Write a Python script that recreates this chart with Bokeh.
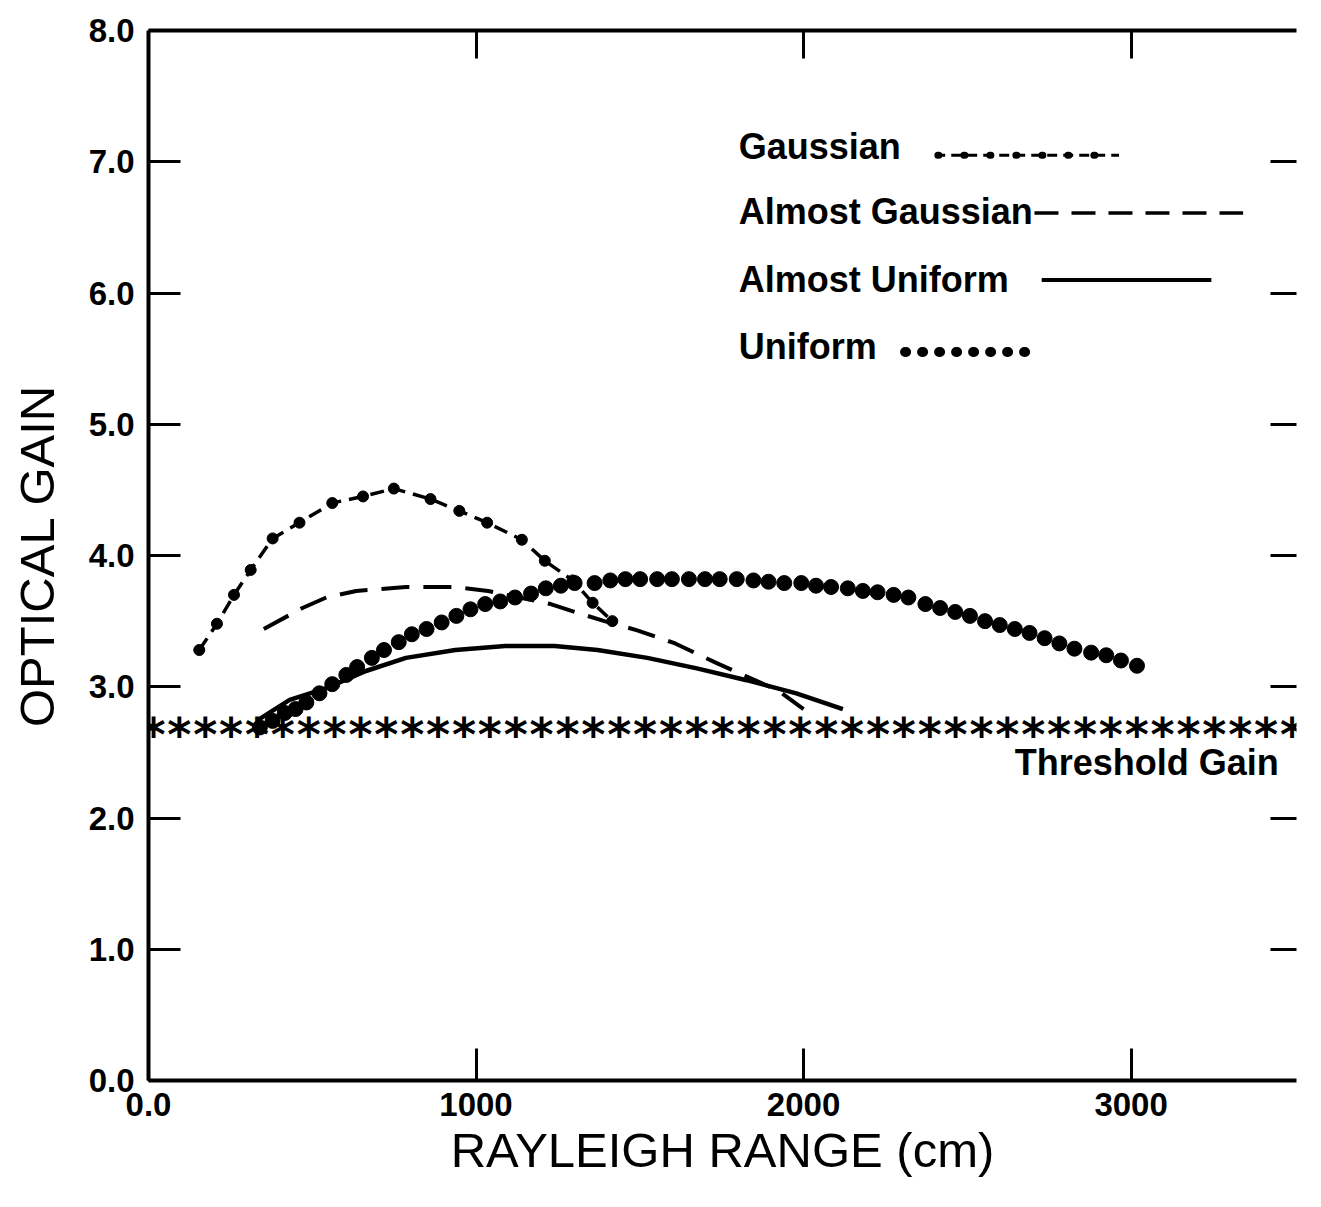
from bokeh.plotting import figure
from bokeh.models import LinearAxis, FixedTicker, NumeralTickFormatter, Label, Range1d, CustomLabelingPolicy
from bokeh.core.properties import value
from bokeh.embed import file_html
from bokeh.resources import INLINE

# ---------------- data ----------------
gaussian_x = [155, 209, 261, 312, 379, 461, 561, 655, 749, 861, 949, 1034, 1140, 1210, 1295, 1356, 1416]
gaussian_y = [3.28, 3.48, 3.70, 3.89, 4.13, 4.25, 4.40, 4.45, 4.51, 4.43, 4.34, 4.25, 4.12, 3.96, 3.81, 3.64, 3.50]

almost_gaussian_x = [352, 470, 543, 634, 786, 937, 1037, 1228, 1289, 1392, 1492, 1608, 1735, 1923, 2000]
almost_gaussian_y = [3.44, 3.60, 3.68, 3.73, 3.76, 3.76, 3.73, 3.63, 3.58, 3.50, 3.43, 3.33, 3.18, 2.97, 2.83]

almost_uniform_x = [330, 431, 543, 664, 786, 937, 1089, 1240, 1371, 1523, 1674, 1826, 1978, 2120]
almost_uniform_y = [2.74, 2.90, 2.99, 3.12, 3.22, 3.28, 3.31, 3.31, 3.28, 3.22, 3.14, 3.05, 2.95, 2.83]

uniform_x = [340, 379, 416, 449, 482, 522, 561, 604, 637, 682, 719, 764, 804, 849, 895, 940,
             983, 1028, 1074, 1119, 1168, 1213, 1259, 1301, 1362, 1410, 1456, 1501, 1553, 1598,
             1650, 1699, 1744, 1796, 1847, 1893, 1941, 1993, 2038, 2084, 2135, 2181, 2226, 2275,
             2320, 2372, 2417, 2463, 2508, 2554, 2599, 2645, 2690, 2736, 2781, 2827, 2878, 2924,
             2969, 3018]
uniform_y = [2.69, 2.74, 2.80, 2.83, 2.88, 2.95, 3.02, 3.09, 3.15, 3.22, 3.28, 3.34, 3.40, 3.44, 3.49, 3.54,
             3.59, 3.63, 3.65, 3.68, 3.71, 3.75, 3.77, 3.79, 3.79, 3.81, 3.82, 3.82, 3.82, 3.82,
             3.82, 3.82, 3.82, 3.82, 3.81, 3.80, 3.79, 3.79, 3.77, 3.76, 3.75, 3.73, 3.72, 3.70,
             3.68, 3.63, 3.60, 3.57, 3.54, 3.50, 3.47, 3.44, 3.41, 3.37, 3.33, 3.29, 3.26, 3.24,
             3.20, 3.16]

threshold_gain = 2.69
threshold_x = [15, 94, 173, 252, 331, 410, 489, 568, 647, 726, 805, 884, 963, 1042, 1121, 1200,
               1279, 1358, 1437, 1516, 1595, 1674, 1753, 1832, 1911, 1990, 2069, 2148, 2227, 2306,
               2385, 2464, 2543, 2622, 2701, 2780, 2859, 2938, 3017, 3096, 3175, 3254, 3333, 3412,
               3491]
threshold_y = [threshold_gain] * len(threshold_x)

x_ticks = [0, 1000, 2000, 3000]
y_ticks = [0, 1, 2, 3, 4, 5, 6, 7, 8]
series_names = ["Gaussian", "Almost Gaussian", "Almost Uniform", "Uniform"]

# ---------------- figure ----------------
FONT = "Liberation Sans"
p = figure(width=1305, height=1191, x_range=Range1d(0, 3505), y_range=Range1d(0, 8),
           output_backend="svg", toolbar_location=None,
           min_border_left=148, min_border_top=30, min_border_right=0, min_border_bottom=111,
           x_axis_label="RAYLEIGH RANGE (cm)", y_axis_label="OPTICAL GAIN")
p.grid.visible = False
p.outline_line_color = None
p.background_fill_color = "white"
p.border_fill_color = "white"

for ax in (p.xaxis[0], p.yaxis[0]):
    ax.axis_line_width = 4
    ax.axis_line_color = "black"
    ax.major_tick_line_width = 3
    ax.major_tick_in = 32
    ax.major_tick_out = 0
    ax.minor_tick_line_color = None
    ax.major_label_text_font = FONT
    ax.major_label_text_font_style = "bold"
    ax.major_label_text_font_size = "33px"
    ax.major_label_text_color = "black"
    ax.axis_label_text_font = FONT
    ax.axis_label_text_font_style = "normal"
    ax.axis_label_text_font_size = "49px"
    ax.axis_label_text_color = "black"
    ax.major_label_standoff = 14

p.xaxis[0].ticker = FixedTicker(ticks=x_ticks)
p.xaxis[0].major_label_overrides = {0: "0.0"}
p.xaxis[0].major_label_standoff = 12
p.xaxis[0].axis_label_standoff = 4
p.yaxis[0].ticker = FixedTicker(ticks=y_ticks)
p.yaxis[0].formatter = NumeralTickFormatter(format="0.0")
p.yaxis[0].axis_label_standoff = 22

no_labels = CustomLabelingPolicy(code="""
    for (const i of indices) { indices.unset(i) }
    return indices
""")

top = LinearAxis(ticker=FixedTicker(ticks=x_ticks[1:]), axis_line_width=4, major_tick_line_width=3,
                 major_tick_in=28, major_tick_out=0, minor_tick_line_color=None,
                 major_label_policy=no_labels, major_label_standoff=0)
p.add_layout(top, "above")
right = LinearAxis(ticker=FixedTicker(ticks=y_ticks[1:-1]), axis_line_color=None, major_tick_line_width=3,
                   major_tick_in=26, major_tick_out=0, minor_tick_line_color=None,
                   major_label_policy=no_labels, major_label_standoff=0)
p.add_layout(right, "right")

# ---------------- series ----------------
p.line(gaussian_x, gaussian_y, line_color="black", line_width=3.5, line_dash="14 8")
p.scatter(gaussian_x, gaussian_y, size=11, color="black")

p.line(almost_gaussian_x, almost_gaussian_y, line_color="black", line_width=4, line_dash="28 14")

p.line(almost_uniform_x, almost_uniform_y, line_color="black", line_width=4.5)

p.scatter(uniform_x, uniform_y, size=15, color="black")

p.text(threshold_x, threshold_y, text=["*"] * len(threshold_x), text_font=value("DejaVu Sans"),
       text_font_style="bold", text_font_size="46px", text_align="center",
       text_baseline="alphabetic", y_offset=8, text_color="black")

# ---------------- legend (text left, key right) ----------------
leg_text_x = 1802
leg_text_y = [7.12, 6.62, 6.10, 5.59]
for name, ty in zip(series_names, leg_text_y):
    p.add_layout(Label(x=leg_text_x, y=ty, text=name, text_font=FONT, text_font_style="bold",
                       text_font_size="36px", text_color="black", text_baseline="alphabetic"))

# Gaussian key
p.line([2402, 2963], [7.05, 7.05], line_color="black", line_width=3, line_dash="10 6")
p.line([2410, 2963], [7.05, 7.05], line_color="black", line_width=7, line_dash="1 25", line_cap="round")
# Almost Gaussian key
p.line([2705, 3342], [6.61, 6.61], line_color="black", line_width=3.5, line_dash="24 13")
# Almost Uniform key
p.line([2727, 3245], [6.10, 6.10], line_color="black", line_width=4)
# Uniform key
p.line([2310, 2720], [5.55, 5.55], line_color="black", line_width=10, line_dash="1 16", line_cap="round")

p.add_layout(Label(x=2645, y=2.42, text="Threshold Gain", text_font=FONT, text_font_style="bold",
                   text_font_size="36px", text_color="black", text_baseline="alphabetic"))

open("out.html", "w").write(file_html(p, INLINE))
